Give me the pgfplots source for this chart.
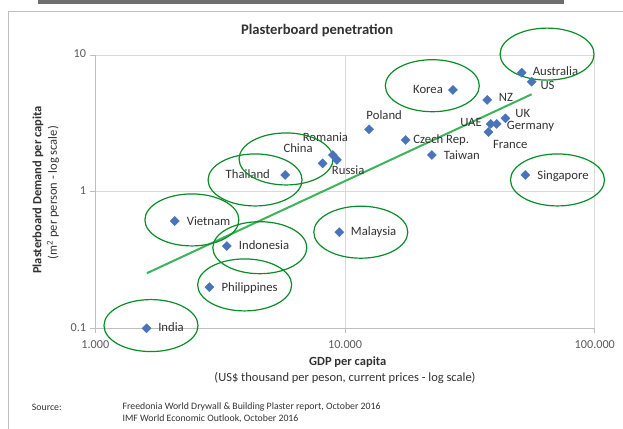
\documentclass[border=0pt]{standalone}
\usepackage{fontspec}
\setmainfont{Carlito}
\usepackage{pgfplots}
\pgfplotsset{compat=1.18}
\definecolor{mk}{RGB}{74,116,185}
\definecolor{trend}{RGB}{60,180,90}
\definecolor{ell}{RGB}{10,140,40}
\definecolor{gridc}{RGB}{217,217,217}
\definecolor{axc}{RGB}{191,191,191}
\definecolor{txt}{RGB}{50,50,50}
\definecolor{tickc}{RGB}{89,89,89}
\definecolor{barc}{RGB}{110,110,110}
\newcommand{\fs}{\fontsize{12.5}{15}\selectfont}
\newcommand{\lab}[5]{\node[anchor=#1, xshift=#2pt, yshift=#3pt] at (axis cs:#4) {#5};}
\newcommand{\ring}[1]{\draw[ell, line width=1.2pt] (axis cs:#1) ellipse [x radius=47pt, y radius=26pt];}
\begin{document}
\begin{tikzpicture}[x=1pt,y=1pt]
\begin{axis}[at={(0,0)}, anchor=south west, scale only axis,
 width=499.5pt, height=273.3pt,
 xmode=log, ymode=log, xmin=1000, xmax=100000, ymin=0.1, ymax=10,
 axis lines*=left, axis line style={axc, line width=0.8pt},
 xtick={1000,10000,100000}, xticklabels={1.000,10.000,100.000},
 ytick={0.1,1,10}, yticklabels={0.1,1,10},
 xminorticks=false, yminorticks=false,
 tick align=outside, major tick length=5pt, tick style={axc, line width=0.8pt},
 grid=major, major grid style={gridc, line width=0.8pt},
 ticklabel style={font=\fontsize{12.2}{14}\selectfont, text=tickc},
 xticklabel style={yshift=-8pt},
 yticklabel style={xshift=-4pt},
 clip=false,
 nodes={font=\fontsize{12.7}{15}\selectfont, text=txt, inner sep=0pt, text height=1.45ex, text depth=0.3ex},
]
\addplot[trend, line width=2pt] coordinates {(1609,0.253) (55850,5.16)};
\addplot[only marks, mark=square*, mark size=3.2pt, mark options={rotate=45, fill=mk, draw=mk}] coordinates {
(50950,7.43) (55850,6.38) (27040,5.55) (37070,4.69) (43850,3.44)
(40470,3.13) (38290,3.13) (37500,2.73) (12480,2.86) (17480,2.39)
(22260,1.855) (8935,1.855) (9280,1.706) (8130,1.61) (5760,1.325)
(52700,1.325) (2080,0.61) (9480,0.505) (3362,0.40) (2864,0.20) (1604,0.10)};
\lab{west}{11}{0}{50950,7.43}{Australia}
\lab{west}{8.7}{-5}{55850,6.38}{US}
\lab{east}{-9.9}{-1}{27040,5.55}{Korea}
\lab{west}{11.5}{0.7}{37070,4.69}{NZ}
\lab{west}{9.9}{4}{43850,3.44}{UK}
\lab{west}{10}{-3.3}{40470,3.13}{Germany}
\lab{east}{-8.8}{0}{38290,3.13}{UAE}
\lab{west}{4.4}{-13.7}{37500,2.73}{France}
\lab{west}{-2.8}{12.6}{12480,2.86}{Poland}
\lab{west}{7.6}{-0.7}{17480,2.39}{Czech Rep.}
\lab{west}{11.9}{-1.7}{22260,1.855}{Taiwan}
\lab{west}{-30.2}{16}{8935,1.855}{Romania}
\lab{west}{-39.3}{13.3}{8130,1.61}{China}
\lab{west}{-5.2}{-11.7}{9280,1.706}{Russia}
\lab{east}{-15.1}{-1}{5760,1.325}{Thailand}
\lab{west}{11.9}{-1.7}{52700,1.325}{Singapore}
\lab{west}{11.9}{-1.3}{2080,0.61}{Vietnam}
\lab{west}{11.5}{-1}{9480,0.505}{Malaysia}
\lab{west}{11.9}{-0.7}{3362,0.40}{Indonesia}
\lab{west}{11.9}{-1.7}{2864,0.20}{Philippines}
\lab{west}{11.5}{-0.7}{1604,0.10}{India}
\ring{64400,10.15}
\ring{22350,5.96}
\ring{5805,1.735}
\ring{4362,1.218}
\ring{70890,1.218}
\ring{2436,0.621}
\ring{4557,0.389}
\ring{11560,0.505}
\ring{3963,0.2077}
\ring{1671,0.1047}
\end{axis}
\draw[axc, line width=1pt] (-86.3,-110) -- (-86.3,316.6) -- (540,316.6);
\fill[barc] (-57.3,324.3) rectangle (468.7,332);
\node[font=\bfseries\fontsize{14.6}{17}\selectfont, text=txt] at (221.9,297.3) {Plasterboard penetration};
\node[rotate=90, font=\bfseries\fs, text=txt] at (-57.3,138.3) {Plasterboard Demand per capita};
\node[rotate=90, font=\fs, text=txt] at (-42.3,135.6) {(m\textsuperscript{2} per person - log scale)};
\node[font=\bfseries\fs, text=txt] at (252.4,-33.4) {GDP per capita};
\node[font=\fs, text=txt] at (249.7,-49.7) {(US\$ thousand per peson, current prices - log scale)};
\node[anchor=west, inner sep=0pt, font=\fontsize{9.8}{11}\selectfont, text=txt] at (-63.5,-79) {Source:};
\node[anchor=west, inner sep=0pt, font=\fontsize{9.8}{11}\selectfont, text=txt] at (27.1,-79) {Freedonia World Drywall \& Building Plaster report, October 2016};
\node[anchor=west, inner sep=0pt, font=\fontsize{9.8}{11}\selectfont, text=txt] at (27.1,-90) {IMF World Economic Outlook, October 2016};
\pgfresetboundingbox
\useasboundingbox (-95.3,-99.7) rectangle (527.7,328.3);
\end{tikzpicture}
\end{document}
